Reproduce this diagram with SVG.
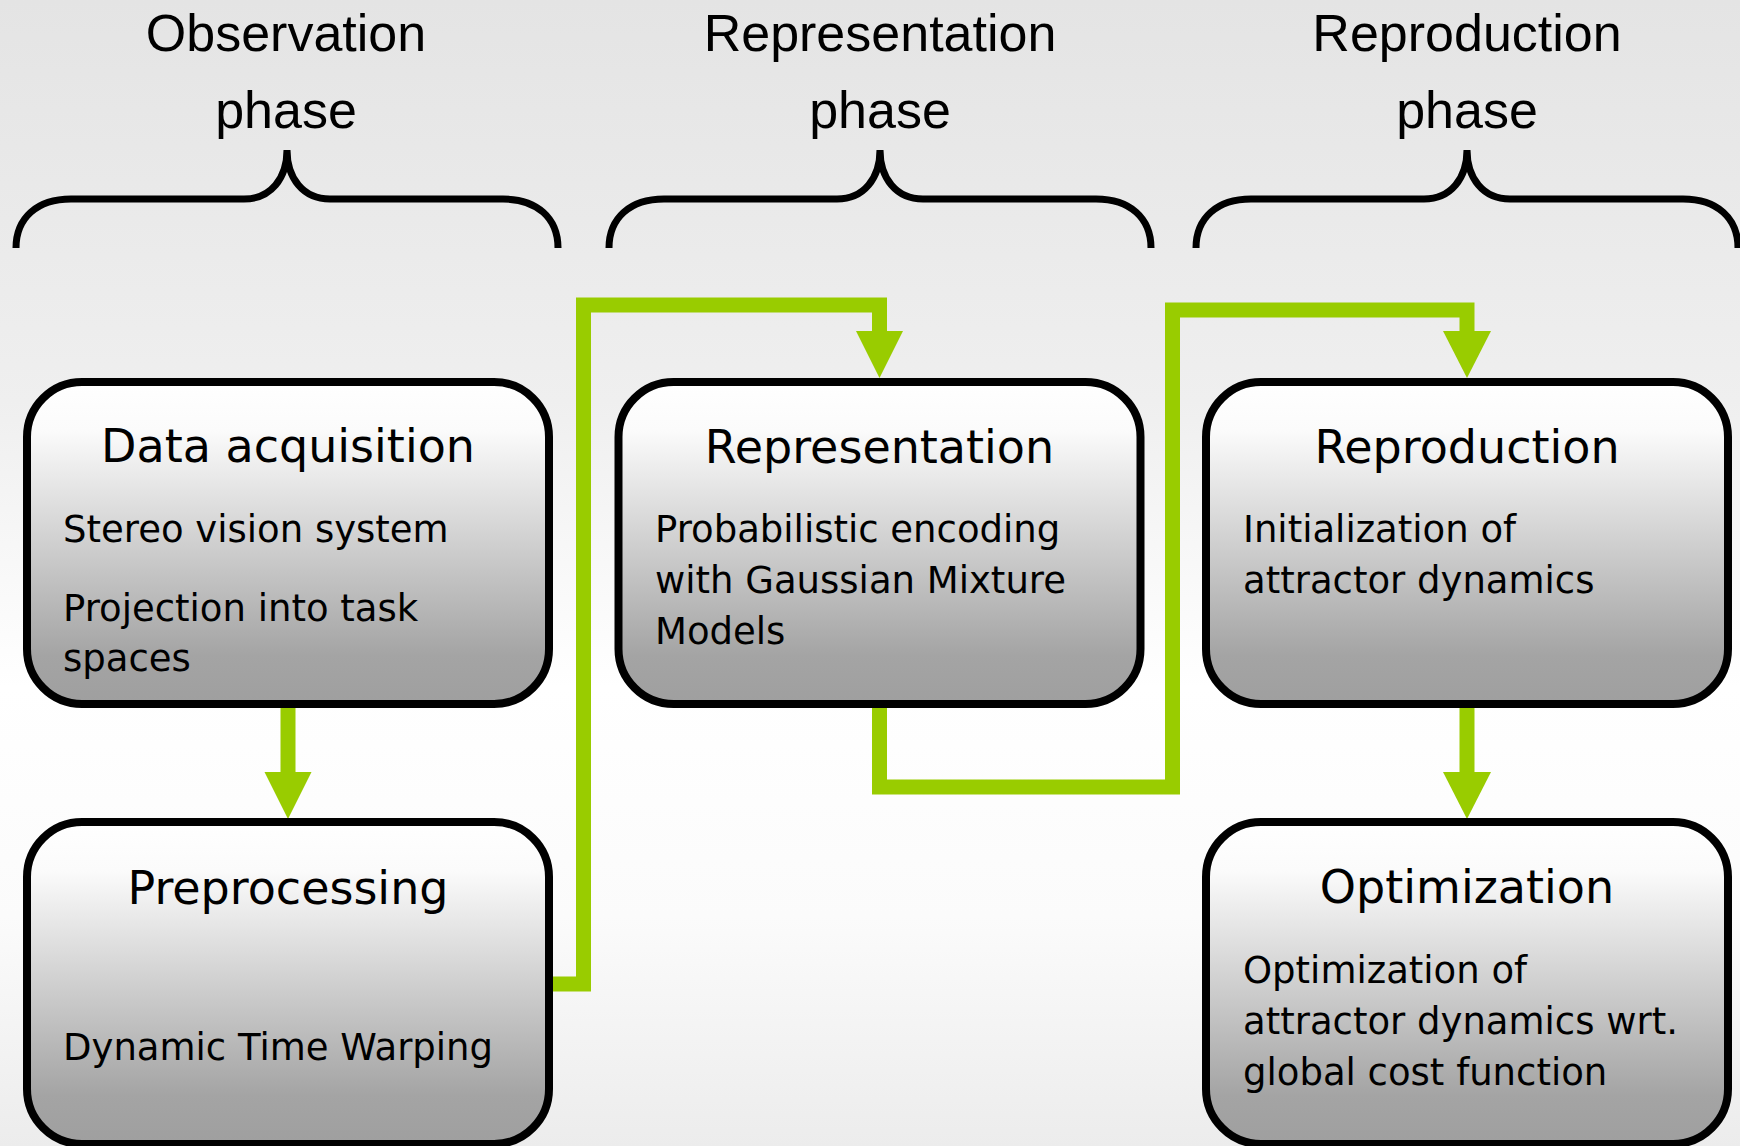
<svg xmlns="http://www.w3.org/2000/svg" width="1740" height="1146" viewBox="0 0 1740 1146">
  <defs>
    <linearGradient id="bg" x1="0" y1="0" x2="0" y2="1">
      <stop offset="0" stop-color="#e4e4e4"/>
      <stop offset="0.35" stop-color="#efefef"/>
      <stop offset="0.6" stop-color="#ffffff"/>
      <stop offset="0.8" stop-color="#fbfbfb"/>
      <stop offset="1" stop-color="#ececec"/>
    </linearGradient>
    <linearGradient id="boxFill" x1="0" y1="0" x2="0" y2="1">
      <stop offset="0" stop-color="#ffffff"/>
      <stop offset="0.15" stop-color="#fbfbfb"/>
      <stop offset="0.85" stop-color="#a4a4a4"/>
      <stop offset="1" stop-color="#9f9f9f"/>
    </linearGradient>
    <!-- curly brace centred on x=0 -->
    <path id="brace" d="M-271,248 C-271,218 -250,199 -216,199 L-43,199 C-16,199 0,178 0,150 C0,178 16,199 43,199 L216,199 C250,199 271,218 271,248"/>
  </defs>
  <style>
    .phase { font-family: "Liberation Sans", Arial, sans-serif; font-size: 52px; fill: #000; text-anchor: middle; }
    .brace { fill: none; stroke: #000; stroke-width: 7; }
    .box { fill: url(#boxFill); stroke: #000; stroke-width: 8; }
    .title { font-family: "DejaVu Sans", Verdana, sans-serif; font-size: 46px; fill: #000; text-anchor: middle; }
    .body { font-family: "DejaVu Sans", Verdana, sans-serif; font-size: 37px; fill: #000; }
    .link { fill: none; stroke: #99cc00; stroke-width: 15; stroke-linejoin: miter; }
    .head { fill: #99cc00; }
  </style>

  <rect x="0" y="0" width="1740" height="1146" fill="url(#bg)"/>

  <!-- phase headings with braces -->
  <g id="phase-observation">
    <text class="phase" x="286" y="51">Observation</text>
    <text class="phase" x="286" y="128">phase</text>
    <use href="#brace" class="brace" x="287"/>
  </g>
  <g id="phase-representation">
    <text class="phase" x="880" y="51">Representation</text>
    <text class="phase" x="880" y="128">phase</text>
    <use href="#brace" class="brace" x="880"/>
  </g>
  <g id="phase-reproduction">
    <text class="phase" x="1467" y="51">Reproduction</text>
    <text class="phase" x="1467" y="128">phase</text>
    <use href="#brace" class="brace" x="1467"/>
  </g>

  <!-- connectors -->
  <g id="connectors">
    <path class="link" d="M288,700 V773"/>
    <polygon class="head" points="264.5,772 311.5,772 288,819"/>

    <path class="link" d="M545,984 H583.5 V305 H879.5 V332"/>
    <polygon class="head" points="856,331 903,331 879.5,378"/>

    <path class="link" d="M879.5,700 V787 H1172.5 V310 H1467 V332"/>
    <polygon class="head" points="1443,331 1491,331 1467,378"/>

    <path class="link" d="M1467,700 V773"/>
    <polygon class="head" points="1443,772 1491,772 1467,819"/>
  </g>

  <!-- process steps -->
  <g id="data-acquisition">
    <rect class="box" x="27" y="382" width="522" height="322" rx="55" ry="55"/>
    <text class="title" x="288" y="462">Data acquisition</text>
    <text class="body" x="63" y="542">Stereo vision system</text>
    <text class="body" x="63" y="621">Projection into task</text>
    <text class="body" x="63" y="671">spaces</text>
  </g>
  <g id="preprocessing">
    <rect class="box" x="27" y="822" width="522" height="322" rx="55" ry="55"/>
    <text class="title" x="288" y="904">Preprocessing</text>
    <text class="body" x="63" y="1060">Dynamic Time Warping</text>
  </g>
  <g id="representation">
    <rect class="box" x="618.5" y="382" width="522" height="322" rx="55" ry="55"/>
    <text class="title" x="879.5" y="463">Representation</text>
    <text class="body" x="655" y="542">Probabilistic encoding</text>
    <text class="body" x="655" y="593">with Gaussian Mixture</text>
    <text class="body" x="655" y="644">Models</text>
  </g>
  <g id="reproduction">
    <rect class="box" x="1206" y="382" width="522" height="322" rx="55" ry="55"/>
    <text class="title" x="1467" y="463">Reproduction</text>
    <text class="body" x="1243" y="542">Initialization of</text>
    <text class="body" x="1243" y="593">attractor dynamics</text>
  </g>
  <g id="optimization">
    <rect class="box" x="1206" y="822" width="522" height="322" rx="55" ry="55"/>
    <text class="title" x="1467" y="903">Optimization</text>
    <text class="body" x="1243" y="983">Optimization of</text>
    <text class="body" x="1243" y="1034">attractor dynamics wrt.</text>
    <text class="body" x="1243" y="1085">global cost function</text>
  </g>
</svg>
